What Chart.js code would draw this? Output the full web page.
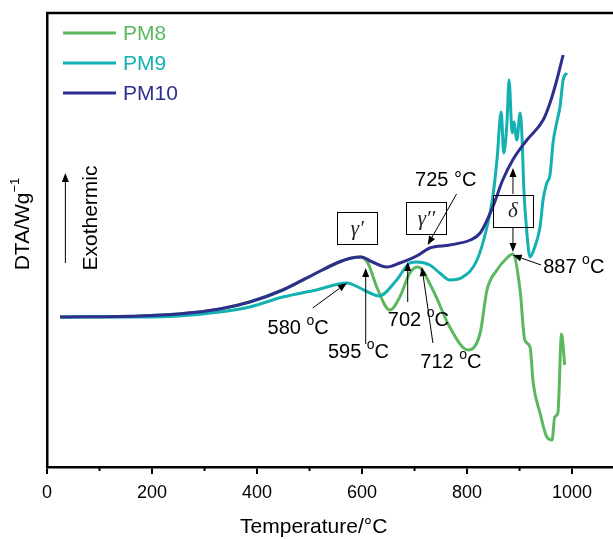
<!DOCTYPE html>
<html><head><meta charset="utf-8">
<script src="https://cdn.jsdelivr.net/npm/chart.js@4"></script>
<style>html,body{margin:0;padding:0;background:#fff;overflow:hidden}#wrap{width:613px;height:539px;position:relative}</style>
</head><body><div id="wrap"><canvas id="c" width="613" height="539"></canvas></div>
<script>
// ---- data (temperature in °C, DTA signal in arbitrary units) ----
const seriesNames = ['PM8', 'PM9', 'PM10'];
const pm8T = [25,176,250,329,386,449,513,552,580,598,612,628,653,672,691,706,735,767,802,825,838,857,876,887,901,910,920,926,939,952,962,967,973,980,986];
const pm8V = [150,151,153,158,165,177,194,204,209,210,203,180,157,170,194,200,177,140,117,134,177,197,209,213,177,127,120,84,54,30,27,50,54,133,102];
const pm9T = [25,176,250,329,386,449,513,571,596,615,632,666,691,704,729,748,767,792,819,838,849,857,865,870,876,880,886,889,895,901,905,908,914,920,929,939,945,952,958,964,971,977,983,990];
const pm9V = [150,150,151,155,160,170,177,184,179,174,171,187,204,205,202,194,187,190,207,240,270,307,355,314,344,387,334,345,327,354,327,280,234,210,220,240,268,284,292,325,345,360,387,394];
const pm10T = [25,176,250,329,386,449,513,552,580,598,620,647,672,704,729,767,806,825,849,868,887,914,945,958,971,983];
const pm10V = [150,151,153,158,165,177,194,204,209,210,205,200,204,211,219,222,227,234,260,287,307,327,347,364,387,412];
const xTickValues = [0, 200, 400, 600, 800, 1000];
const xMinorTickValues = [100, 300, 500, 700, 900];
const xTitle = 'Temperature/°C';
const yTitle = 'DTA/Wg';
const yTitleSup = '\u22121';
const exoText = 'Exothermic';
// peak labels: text, anchor (T, value), arrow from -> to
const peakLabels = [
  {num:'580', deg:'sup', at:[420,139], from:[506,159], to:[571,184]},
  {num:'595', deg:'sup', at:[535,115], from:[607,123], to:[607,199]},
  {num:'702', deg:'sup', at:[649,147], from:[687,165], to:[687,205]},
  {num:'712', deg:'sup', at:[711,105], from:[735,124], to:[714,200]},
  {num:'725', deg:'sign', at:[701,287], from:[780,273], to:[725,222]},
  {num:'887', deg:'sup', at:[945,200], from:[941,202], to:[887,212]}
];
const phaseBoxes = [
  {label:'\u03B3\u2032', at:[591,239]},
  {label:'\u03B3\u2032\u2032', at:[722.6,249]},
  {label:'\u03B4', at:[887.5,256.5]}
];
const deltaArrows = [ {from:[887.5,273], to:[887.5,299]}, {from:[887.5,240], to:[887.5,215]} ];
const colors = ['#5cb85f', '#13b1b1', '#2d2f8f'];
const drawOrder = [2, 1, 0];

const mk = (T, V) => T.map((t, i) => ({x: t, y: V[i]}));
const SANS = "'Liberation Sans', Arial, sans-serif";

function arrow(ctx, x1, y1, x2, y2) {
  const ang = Math.atan2(y2 - y1, x2 - x1);
  const L = 9, W = 3.5;
  const bx = x2 - L * Math.cos(ang), by = y2 - L * Math.sin(ang);
  ctx.beginPath(); ctx.moveTo(x1, y1); ctx.lineTo(bx, by);
  ctx.lineWidth = 1; ctx.strokeStyle = '#000'; ctx.stroke();
  ctx.beginPath(); ctx.moveTo(x2, y2);
  ctx.lineTo(bx + W * Math.sin(ang), by - W * Math.cos(ang));
  ctx.lineTo(bx - W * Math.sin(ang), by + W * Math.cos(ang));
  ctx.closePath(); ctx.fillStyle = '#000'; ctx.fill();
}

const decor = {
  id: 'decor',
  afterDraw(chart) {
    const ctx = chart.ctx, ca = chart.chartArea;
    const xs = chart.scales.x, ys = chart.scales.y;
    const P = (p) => [xs.getPixelForValue(p[0]), ys.getPixelForValue(p[1])];
    ctx.save();
    // top frame
    ctx.beginPath(); ctx.moveTo(ca.left - 1, ca.top); ctx.lineTo(chart.width, ca.top);
    ctx.lineWidth = 2.5; ctx.strokeStyle = '#000'; ctx.stroke();
    // minor ticks
    ctx.lineWidth = 2;
    xMinorTickValues.forEach(v => {
      const px = xs.getPixelForValue(v);
      ctx.beginPath(); ctx.moveTo(px, ca.bottom); ctx.lineTo(px, ca.bottom + 4); ctx.stroke();
    });
    // legend
    chart.data.datasets.forEach((ds, i) => {
      const y = ca.top + 20 + i * 30;
      ctx.beginPath(); ctx.moveTo(ca.left + 16, y); ctx.lineTo(ca.left + 69, y);
      ctx.lineWidth = 3; ctx.strokeStyle = ds.borderColor; ctx.stroke();
      ctx.fillStyle = ds.borderColor; ctx.font = '21px ' + SANS;
      ctx.textAlign = 'left'; ctx.textBaseline = 'middle';
      ctx.fillText(ds.label, ca.left + 76, y + 1);
    });
    // x title
    ctx.fillStyle = '#000'; ctx.font = '21px ' + SANS; ctx.textAlign = 'center'; ctx.textBaseline = 'middle';
    ctx.fillText(xTitle, xs.getPixelForValue(508), ca.bottom + 60);
    // y title (rotated)
    ctx.save();
    ctx.translate(ca.left - 24, (ca.top + ca.bottom) / 2 - 16);
    ctx.rotate(-Math.PI / 2);
    ctx.font = '21px ' + SANS; ctx.textBaseline = 'middle'; ctx.textAlign = 'left';
    const w1 = ctx.measureText(yTitle).width;
    ctx.font = '13px ' + SANS; const w2 = ctx.measureText(yTitleSup).width;
    let sx = -(w1 + w2) / 2;
    ctx.font = '21px ' + SANS; ctx.fillText(yTitle, sx, 0);
    ctx.font = '13px ' + SANS; ctx.fillText(yTitleSup, sx + w1, -8);
    ctx.restore();
    // exothermic arrow + text
    const ea = P([35, 204]), eb = P([35, 294]);
    arrow(ctx, ea[0], ea[1], eb[0], eb[1]);
    const et = P([85, 249]);
    ctx.save(); ctx.translate(et[0], et[1]); ctx.rotate(-Math.PI / 2);
    ctx.font = '21px ' + SANS; ctx.textAlign = 'center'; ctx.textBaseline = 'middle'; ctx.fillStyle = '#000';
    ctx.fillText(exoText, 0, 0); ctx.restore();
    // phase boxes
    phaseBoxes.forEach(b => {
      const c = P(b.at);
      ctx.lineWidth = 1; ctx.strokeStyle = '#000';
      ctx.strokeRect(Math.round(c[0] - 20) + 0.5, Math.round(c[1] - 16) + 0.5, 40, 32);
      ctx.font = 'italic 21px "Liberation Serif", "Times New Roman", serif';
      ctx.textAlign = 'center'; ctx.textBaseline = 'middle'; ctx.fillStyle = '#222';
      ctx.fillText(b.label, c[0], c[1] + 1);
    });
    deltaArrows.forEach(a => { const f = P(a.from), t = P(a.to); arrow(ctx, f[0], f[1], t[0], t[1]); });
    // peak labels
    peakLabels.forEach(l => {
      const f = P(l.from), t = P(l.to); arrow(ctx, f[0], f[1], t[0], t[1]);
      const p = P(l.at);
      ctx.fillStyle = '#000'; ctx.textAlign = 'left'; ctx.textBaseline = 'middle';
      let x = p[0];
      ctx.font = '20px ' + SANS;
      if (l.deg === 'sign') {
        ctx.fillText(l.num + ' \u00B0C', x, p[1]);
      } else {
        const s = l.num + ' '; ctx.fillText(s, x, p[1]); x += ctx.measureText(s).width;
        ctx.font = '14px ' + SANS; ctx.fillText('o', x, p[1] - 7); x += ctx.measureText('o').width;
        ctx.font = '20px ' + SANS; ctx.fillText('C', x, p[1]);
      }
    });
    ctx.restore();
  }
};

const datasets = [mk(pm8T, pm8V), mk(pm9T, pm9V), mk(pm10T, pm10V)].map((d, i) => ({
  label: seriesNames[i], data: d, borderColor: colors[i], backgroundColor: colors[i],
  borderWidth: 3, pointRadius: 0, fill: false, cubicInterpolationMode: 'monotone', order: drawOrder[i]
}));

new Chart(document.getElementById('c'), {
  type: 'line',
  data: { datasets },
  options: {
    responsive: false, animation: false, parsing: true,
    layout: { padding: { top: 13, left: 0, right: 0, bottom: 0 } },
    plugins: { legend: { display: false }, tooltip: { enabled: false } },
    scales: {
      x: {
        type: 'linear', min: 0, max: 1078,
        afterBuildTicks: s => { s.ticks = xTickValues.map(v => ({ value: v })); },
        afterFit: s => { s.height = 72; },
        ticks: { color: '#000', font: { family: SANS, size: 18 }, padding: 8, maxRotation: 0, autoSkip: false,
                 callback: v => String(v) },
        grid: { display: true, drawOnChartArea: false, drawTicks: true, tickLength: 7, color: '#000', lineWidth: 2 },
        border: { display: true, color: '#000', width: 2.5 }
      },
      y: {
        type: 'linear', min: 0, max: 454,
        afterFit: s => { s.width = 47; },
        ticks: { display: false },
        grid: { display: false },
        border: { display: true, color: '#000', width: 2.5 }
      }
    }
  },
  plugins: [decor]
});
</script></body></html>
